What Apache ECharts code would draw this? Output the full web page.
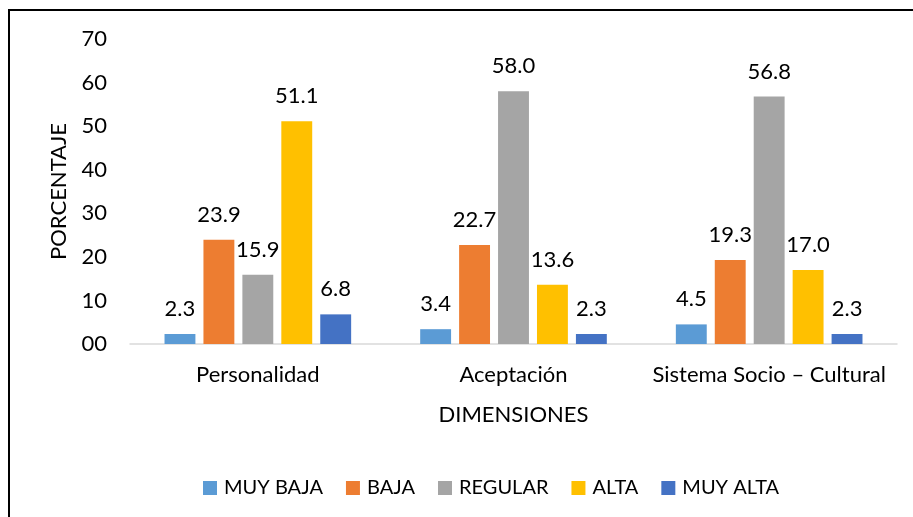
<!DOCTYPE html>
<html>
<head>
<meta charset="utf-8">
<script src="https://cdn.jsdelivr.net/npm/echarts@6/dist/echarts.min.js"></script>
<style>
    html, body { margin: 0; padding: 0; background: #fff; }
    #chart { width: 913px; height: 517px; }
</style>
</head>
<body>
<div id="chart"></div>
<script>
    const categories = ['Personalidad', 'Aceptación', 'Sistema Socio – Cultural'];
    const seriesNames = ['MUY BAJA', 'BAJA', 'REGULAR', 'ALTA', 'MUY ALTA'];
    const muyBaja = [2.3, 3.4, 4.5];
    const baja = [23.9, 22.7, 19.3];
    const regular = [15.9, 58.0, 56.8];
    const alta = [51.1, 13.6, 17.0];
    const muyAlta = [6.8, 2.3, 2.3];
    const yTicks = ['00', '10', '20', '30', '40', '50', '60', '70'];

    const values = [muyBaja, baja, regular, alta, muyAlta];
    const font = 'Lato, "Open Sans", sans-serif';

    let chart = echarts.init(document.getElementById('chart'));
    let seriesData = [];
    for (let i = 0; i < seriesNames.length; i++) {
        seriesData.push({
            name: seriesNames[i],
            type: 'bar',
            barGap: '26%',
            barCategoryGap: '27%',
            label: {
                show: true,
                position: 'top',
                distance: 14,
                formatter: p => p.value.toFixed(1),
                fontSize: 22,
                fontFamily: font,
                color: '#000'
            },
            data: values[i]
        });
    }

    let option = {
        color: ['#5B9BD5', '#ED7D31', '#A5A5A5', '#FFC000', '#4472C4'],
        animation: false,
        graphic: [{
            type: 'rect',
            shape: { x: 9, y: 10, width: 920, height: 520 },
            style: { fill: 'none', stroke: '#000', lineWidth: 2 }
        }],
        grid: {
            top: 39,
            left: 130,
            right: 16,
            bottom: 173
        },
        legend: {
            bottom: 14,
            left: 198,
            itemWidth: 14,
            itemHeight: 14,
            itemGap: 23,
            icon: 'rect',
            data: seriesNames,
            textStyle: { fontSize: 20, fontFamily: font, color: '#000', padding: [0, 0, 0, 2] }
        },
        xAxis: {
            type: 'category',
            data: categories,
            name: 'DIMENSIONES',
            nameLocation: 'middle',
            nameGap: 60,
            nameTextStyle: { fontSize: 22, fontFamily: font, color: '#000' },
            axisTick: { show: false },
            axisLine: { lineStyle: { color: '#D9D9D9', width: 1.5 } },
            axisLabel: { interval: 0, fontSize: 22, fontFamily: font, color: '#000', margin: 20 }
        },
        yAxis: {
            type: 'value',
            min: 0,
            max: 70,
            interval: 10,
            name: 'PORCENTAJE',
            nameLocation: 'middle',
            nameGap: 60,
            nameTextStyle: { fontSize: 22, fontFamily: font, color: '#000' },
            splitLine: { show: false },
            axisLine: { show: false },
            axisTick: { show: false },
            axisLabel: {
                fontSize: 22,
                fontFamily: font,
                color: '#000',
                margin: 23,
                formatter: v => yTicks[Math.round(v / 10)]
            }
        },
        series: seriesData
    };
    chart.setOption(option);
</script>
</body>
</html>
